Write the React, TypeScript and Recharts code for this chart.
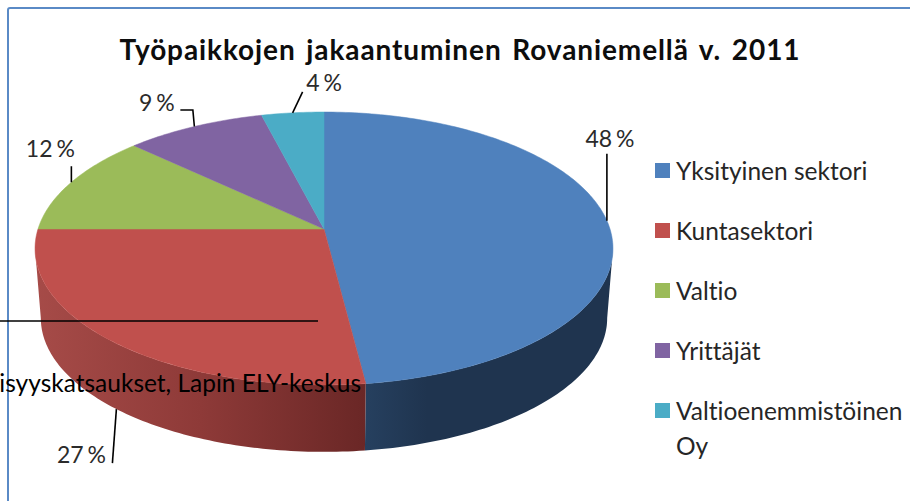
import { Legend, Pie, PieChart } from "recharts";

const categories = [
  "Yksityinen sektori",
  "Kuntasektori",
  "Valtio",
  "Yrittäjät",
  "Valtioenemmistöinen Oy",
];
const shares = [48, 27, 12, 9, 4];
const topColors = ["#4F81BD", "#C0504D", "#9BBB59", "#8064A2", "#4BACC6"];
const wallFills = ["url(#wallBlue)", "url(#wallRed)", "none", "none", "none"];

// leader line bends and label text, relative to the point on the pie edge
const leaderBends = [
  [[0, -67]],
  [[-4, 54]],
  [[0, -16]],
  [[-1.5, -16.5], [-14, -16.5]],
  [[10, -21]],
];
const labelOffsets = [
  [3, -74],
  [-35, 54],
  [-21, -25],
  [-37.5, -15.5],
  [31.5, -22],
];

const data = categories.map((name, i) => ({ name, value: shares[i], index: i }));

const FONT = "Lato, Carlito, sans-serif";
const CX = 324;
const CY = 229;
// the pie is drawn in perspective, the near half is larger than the far one
const RX = 286;
const RY = 133.7;
const PERSPECTIVE = -0.1429;
const BOTTOM_SCALE = 0.98;
const BOTTOM_DROP = 70;
const SILHOUETTE = -8.2; // angle where the wall becomes visible

function project(angle: number, cx: number, cy: number, scale = 1) {
  const rad = (angle * Math.PI) / 180;
  const u = Math.cos(rad);
  const v = -Math.sin(rad);
  const w = 1 + PERSPECTIVE * v;
  return [cx + (scale * RX * u) / w, cy + (scale * RY * v) / w];
}

function arcPoints(from: number, to: number, cx: number, cy: number, scale = 1) {
  const steps = Math.max(1, Math.ceil(Math.abs(to - from)));
  const pts = [];
  for (let i = 0; i <= steps; i++) {
    pts.push(project(from + ((to - from) * i) / steps, cx, cy, scale));
  }
  return pts;
}

function toPath(pts: number[][]) {
  return "M" + pts.map((p) => p[0].toFixed(2) + " " + p[1].toFixed(2)).join("L") + "Z";
}

function TopSlice(props: any) {
  const { cx, cy, startAngle, endAngle, fill } = props;
  const pts = [[cx, cy], ...arcPoints(startAngle, endAngle, cx, cy)];
  return <path d={toPath(pts)} fill={fill} stroke={fill} strokeWidth={0.5} />;
}

function WallSlice(props: any) {
  const { cx, cy, startAngle, endAngle, index } = props;
  const from = Math.min(startAngle, SILHOUETTE);
  const to = Math.max(endAngle, -180 - SILHOUETTE);
  if (from <= to) return <g />;
  const top = arcPoints(from, to, cx, cy);
  const bottom = arcPoints(to, from, cx, cy + BOTTOM_DROP, BOTTOM_SCALE);
  return <path d={toPath([...top, ...bottom])} fill={wallFills[index]} />;
}

function SliceLabel(props: any) {
  const { cx, cy, midAngle, index } = props;
  const v = -Math.sin((midAngle * Math.PI) / 180);
  const onWall = v > 0.14;
  const [ax, ay] = onWall
    ? project(midAngle, cx, cy + BOTTOM_DROP, BOTTOM_SCALE)
    : project(midAngle, cx, cy);
  const line = [[0, 0], ...leaderBends[index]]
    .map((p) => ax + p[0] + "," + (ay + p[1]))
    .join(" ");
  const [dx, dy] = labelOffsets[index];
  return (
    <g>
      <polyline points={line} fill="none" stroke="#000" strokeWidth={1.6} />
      <text
        x={ax + dx}
        y={ay + dy}
        textAnchor="middle"
        fontFamily={FONT}
        fontSize={23}
        wordSpacing={-2}
        fill="#2b2b2b"
      >
        {shares[index]} %
      </text>
    </g>
  );
}

function LegendBox({ payload }: any) {
  // the wall pie reports legend entries too, keep only the coloured top slices
  const rows = categories.map((name) =>
    (payload || []).find((e: any) => e.value === name && topColors.includes(e.color)),
  );
  return (
    <div
      style={{
        fontFamily: FONT,
        fontSize: 24.5,
        color: "#262626",
        lineHeight: "35px",
        fontVariantLigatures: "none",
      }}
    >
      {rows.filter(Boolean).map((entry: any, i: number) => (
        <div key={i} style={{ display: "flex", height: 60 }}>
          <span
            style={{
              width: 15,
              height: 15,
              marginTop: 10,
              marginRight: 6,
              flex: "none",
              background: entry.color,
            }}
          />
          <span style={{ width: 236 }}>{entry.value}</span>
        </div>
      ))}
    </div>
  );
}

export default function App() {
  return (
    <div style={{ position: "absolute", left: 0, top: 0, width: 910, height: 501, overflow: "hidden" }}>
      <PieChart width={910} height={501} margin={{ top: 0, right: 0, bottom: 0, left: 0 }}>
        <defs>
          <linearGradient id="wallRed" x1="0" y1="0" x2="1" y2="0">
            <stop offset="0" stopColor="#A64B48" />
            <stop offset="0.5" stopColor="#8E3A38" />
            <stop offset="1" stopColor="#6A2726" />
          </linearGradient>
          <linearGradient id="wallBlue" x1="0" y1="0" x2="1" y2="0">
            <stop offset="0" stopColor="#26405F" />
            <stop offset="0.25" stopColor="#1F344F" />
            <stop offset="1" stopColor="#1F344F" />
          </linearGradient>
        </defs>
        <rect x={8} y={8} width={940} height={540} rx={2} fill="none" stroke="#5A8AC6" strokeWidth={2} />
        <text
          x={460}
          y={60}
          textAnchor="middle"
          fontFamily={FONT}
          fontSize={28}
          fontWeight={700}
          letterSpacing={0.9}
          wordSpacing={3}
          fill="#0d0d0d"
        >
          Työpaikkojen jakaantuminen Rovaniemellä v. 2011
        </text>
        <Pie
          data={data}
          dataKey="value"
          nameKey="name"
          cx={CX}
          cy={CY}
          outerRadius={RX}
          startAngle={90}
          endAngle={-270}
          legendType="none"
          shape={WallSlice}
          isAnimationActive={false}
        />
        <Pie
          data={data.map((d, i) => ({ ...d, fill: topColors[i] }))}
          dataKey="value"
          nameKey="name"
          cx={CX}
          cy={CY}
          outerRadius={RX}
          startAngle={90}
          endAngle={-270}
          legendType="square"
          shape={TopSlice}
          label={SliceLabel}
          labelLine={false}
          isAnimationActive={false}
        />
        <Legend
          content={LegendBox}
          wrapperStyle={{ position: "absolute", left: 655, top: 153, width: 255 }}
        />
      </PieChart>
      {/* text box from the document that lies over the chart */}
      <svg width={910} height={501} style={{ position: "absolute", left: 0, top: 0, pointerEvents: "none" }}>
        <line x1={0} y1={321} x2={318} y2={321} stroke="#000" strokeWidth={1.6} />
        <text x={361} y={392} textAnchor="end" fontFamily={FONT} fontSize={24.5} fill="#000">
          isyyskatsaukset, Lapin ELY-keskus
        </text>
      </svg>
    </div>
  );
}
